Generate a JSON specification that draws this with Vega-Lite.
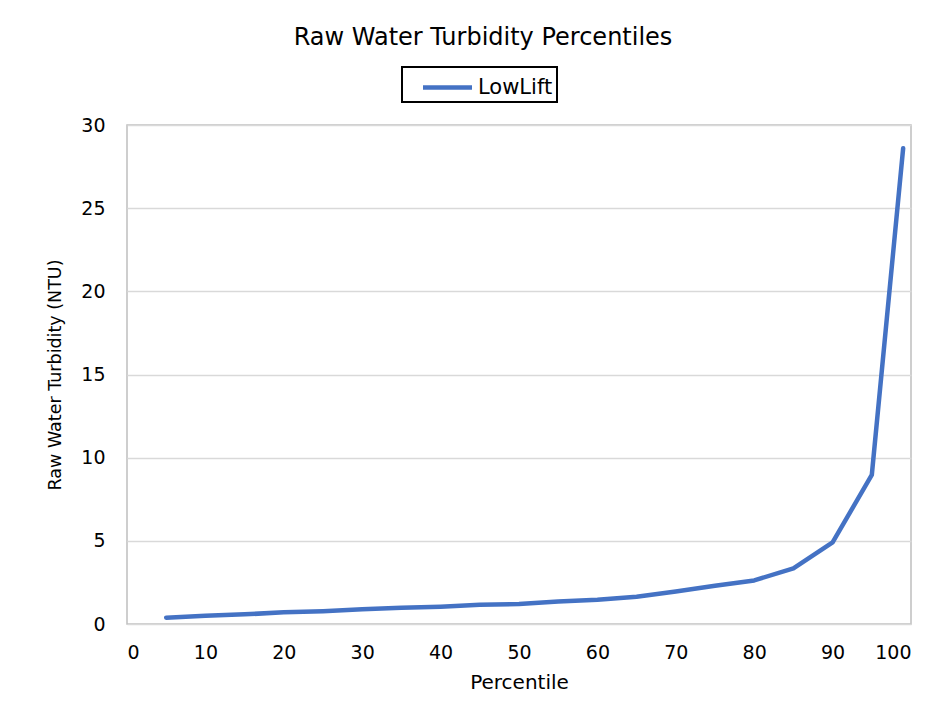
{
  "$schema": "https://vega.github.io/schema/vega-lite/v6.json",
  "autosize": {"type": "none"},
  "padding": {"left": 127, "top": 125, "right": 37, "bottom": 93},
  "width": 784,
  "height": 499,
  "background": "white",
  "title": {
    "text": "Raw Water Turbidity Percentiles",
    "fontSize": 24,
    "font": "DejaVu Sans",
    "fontWeight": "normal",
    "color": "#000000",
    "anchor": "middle",
    "dx": -36,
    "offset": 16
  },
  "data": {
    "values": [
      {"Percentile": 5, "NTU": 0.38, "Series": "LowLift"},
      {"Percentile": 10, "NTU": 0.5, "Series": "LowLift"},
      {"Percentile": 15, "NTU": 0.58, "Series": "LowLift"},
      {"Percentile": 20, "NTU": 0.7, "Series": "LowLift"},
      {"Percentile": 25, "NTU": 0.77, "Series": "LowLift"},
      {"Percentile": 30, "NTU": 0.88, "Series": "LowLift"},
      {"Percentile": 35, "NTU": 0.98, "Series": "LowLift"},
      {"Percentile": 40, "NTU": 1.04, "Series": "LowLift"},
      {"Percentile": 45, "NTU": 1.15, "Series": "LowLift"},
      {"Percentile": 50, "NTU": 1.2, "Series": "LowLift"},
      {"Percentile": 55, "NTU": 1.35, "Series": "LowLift"},
      {"Percentile": 60, "NTU": 1.46, "Series": "LowLift"},
      {"Percentile": 65, "NTU": 1.64, "Series": "LowLift"},
      {"Percentile": 70, "NTU": 1.95, "Series": "LowLift"},
      {"Percentile": 75, "NTU": 2.3, "Series": "LowLift"},
      {"Percentile": 80, "NTU": 2.62, "Series": "LowLift"},
      {"Percentile": 85, "NTU": 3.35, "Series": "LowLift"},
      {"Percentile": 90, "NTU": 4.91, "Series": "LowLift"},
      {"Percentile": 95, "NTU": 8.96, "Series": "LowLift"},
      {"Percentile": 99, "NTU": 28.6, "Series": "LowLift"}
    ]
  },
  "mark": {"type": "line", "strokeWidth": 4.5, "strokeCap": "round", "strokeJoin": "round"},
  "encoding": {
    "x": {
      "field": "Percentile",
      "type": "quantitative",
      "scale": {"domain": [0, 100], "nice": false},
      "axis": {"values": [0, 10, 20, 30, 40, 50, 60, 70, 80, 90, 100], "grid": false, "title": "Percentile", "titlePadding": 10, "titleFontSize": 20, "labelPadding": 19}
    },
    "y": {
      "field": "NTU",
      "type": "quantitative",
      "scale": {"domain": [0, 30], "nice": false},
      "axis": {"values": [0, 5, 10, 15, 20, 25, 30], "grid": true, "title": "Raw Water Turbidity (NTU)", "titlePadding": 16, "titleFontSize": 17.5}
    },
    "color": {
      "field": "Series",
      "type": "nominal",
      "scale": {"range": ["#4472C4"]},
      "legend": {
        "title": null,
        "orient": "none",
        "legendX": 275,
        "legendY": -58,
        "direction": "horizontal",
        "symbolType": "M-1.75,0H1.75",
        "symbolSize": 784,
        "symbolStrokeWidth": 4.5,
        "labelFontSize": 21,
        "labelFont": "DejaVu Sans",
        "labelColor": "#000000",
        "strokeColor": "#000000",
        "fillColor": "white",
        "padding": 4,
        "symbolOffset": 25,
        "labelOffset": 14
      }
    }
  },
  "config": {
    "view": {"stroke": "#bfbfbf", "strokeWidth": 1.5},
    "axis": {
      "labelFont": "DejaVu Sans",
      "titleFont": "DejaVu Sans",
      "labelFontSize": 19,
      "titleFontWeight": "normal",
      "labelColor": "#000000",
      "titleColor": "#000000",
      "ticks": false,
      "domain": false,
      "gridColor": "#d9d9d9",
      "gridWidth": 1.5,
      "labelPadding": 16
    },
    "axisY": {"labelPadding": 22},
    "legend": {"strokeWidth": 2}
  }
}
